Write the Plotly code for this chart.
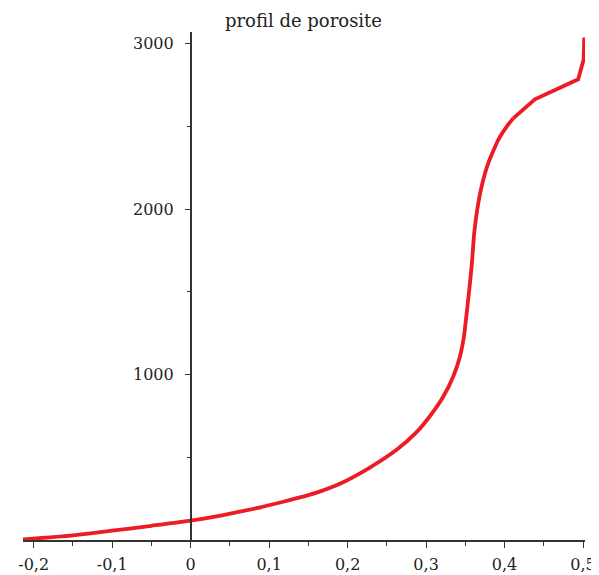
import plotly.graph_objects as go

# porosity (x) vs depth (y)
porosity = [-0.2136, -0.15, -0.10, -0.05, 0.0, 0.0415, 0.0841, 0.1180, 0.1478, 0.1689,
            0.1902, 0.2284, 0.2624, 0.2879, 0.3048, 0.3218, 0.3345, 0.3431, 0.3482,
            0.3536, 0.3580, 0.3613, 0.3651, 0.3707, 0.3791, 0.3918, 0.4025, 0.4110,
            0.4386, 0.4938, 0.5008, 0.5015]
depth = [3, 28, 56, 86, 117, 151, 192, 231, 268, 300,
         340, 438, 545, 652, 748, 866, 987, 1108, 1228,
         1450, 1651, 1853, 1994, 2135, 2276, 2417, 2497, 2548,
         2663, 2784, 2905, 3037]
split = 27  # smooth part up to here, straight segments after

x_tickvals = [-0.2, -0.1, 0, 0.1, 0.2, 0.3, 0.4, 0.5]
x_ticktext = ["-0,2", "-0,1", "0", "0,1", "0,2", "0,3", "0,4", "0,5"]
y_tickvals = [1000, 2000, 3000]
y_ticktext = ["1000", "2000", "3000"]

x_min, x_max = -0.2136, 0.5025
y_min, y_max = 0, 3070

red = "rgb(237,28,36)"
fig = go.Figure()
fig.add_trace(go.Scatter(x=porosity[:split + 1], y=depth[:split + 1], mode="lines",
                         line=dict(color=red, width=3.8, shape="spline", smoothing=0.5),
                         showlegend=False, hoverinfo="skip"))
fig.add_trace(go.Scatter(x=porosity[split:], y=depth[split:], mode="lines",
                         line=dict(color=red, width=3.8),
                         showlegend=False, hoverinfo="skip"))

fam = "DejaVu Serif"
font = dict(family=fam, size=16, color="#222222")
axis_col = "#333333"
ypos = (0 - x_min) / (x_max - x_min)

# the page body has an 8px margin, so the figure is sized/offset to compensate
fig.update_layout(
    width=591, height=567,
    margin=dict(l=15, r=14, t=24, b=35, autoexpand=False),
    paper_bgcolor="white", plot_bgcolor="white",
    title=dict(text="profil de porosite", x=0.5, xanchor="center", y=0.977, yanchor="middle",
               font=dict(family=fam, size=18, color="#222222")),
    xaxis=dict(range=[x_min, x_max], showgrid=False, zeroline=False, automargin=False,
               showline=True, linecolor=axis_col, linewidth=1.5,
               tickmode="array", tickvals=x_tickvals, ticktext=x_ticktext,
               ticks="outside", ticklen=6, tickcolor=axis_col, tickwidth=1.3,
               tickfont=font, ticklabelstandoff=3,
               minor=dict(tickmode="linear", tick0=0, dtick=0.05, ticks="outside",
                          ticklen=4, tickcolor=axis_col, tickwidth=1.3)),
    yaxis=dict(range=[y_min, y_max], showgrid=False, zeroline=False, automargin=False,
               anchor="free", position=ypos,
               showline=True, linecolor=axis_col, linewidth=1.5,
               tickmode="array", tickvals=y_tickvals, ticktext=y_ticktext,
               ticks="outside", ticklen=5, tickcolor=axis_col, tickwidth=1.3,
               tickfont=font, ticklabelstandoff=8,
               minor=dict(tickmode="linear", tick0=0, dtick=500, ticks="outside",
                          ticklen=3, tickcolor=axis_col, tickwidth=1.3)),
)

fig.write_html("out.html")
